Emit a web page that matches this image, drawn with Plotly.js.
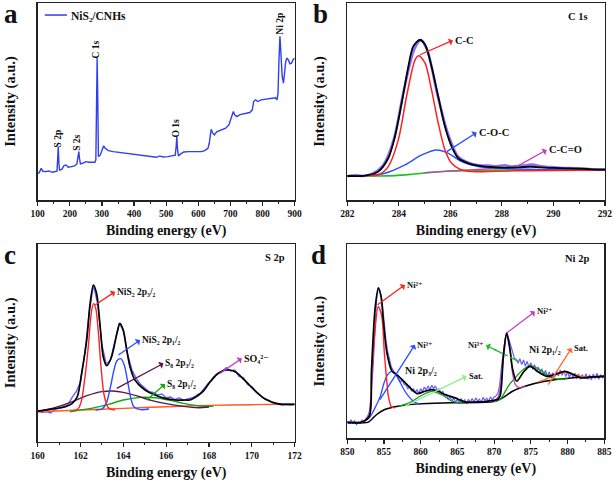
<!DOCTYPE html>
<html><head><meta charset="utf-8">
<script src="https://cdn.plot.ly/plotly-3.0.1.min.js"></script>
<style>html,body{margin:0;padding:0;background:#fff}#chart{width:614px;height:485px}</style>
</head><body><div id="chart"></div>
<script>
// ---------- Panel a: survey ----------
const surveyE = [100,105,111,116,125,135,145,155,160,162,164,166,168,175,182,188,195,205,215,222,226,228,230,233,240,250,260,270,278,281,283,285,287,289,295,300,305,310,320,335,350,370,390,410,430,450,470,480,490,505,520,528,531,533,535,538,545,555,570,590,610,620,630,634,637,640,645,650,657,665,675,685,695,700,705,709,713,720,730,745,760,768,772,778,785,795,810,825,840,845,848,851,854,857,861,865,868,872,876,880,885,890,895,900];
const surveyI = [80,82,95,86,85,87,83,84,86,120,160,110,90,92,103,105,98,100,102,108,140,145,125,108,110,115,113,112,113,120,300,425,300,130,135,150,162,155,148,145,143,140,138,135,132,130,128,132,129,130,132,134,160,190,155,132,138,144,145,145,145,148,155,170,200,212,200,195,204,207,210,215,225,240,252,265,255,250,256,260,262,270,295,300,295,300,302,304,306,300,320,420,490,440,370,350,375,415,425,420,408,410,420,425];
const surveyName = 'NiS₂/CNHs';

// ---------- Panel b: C 1s ----------
const c1sRawE = [282,282.3,282.6,283,283.4,283.8,284.2,284.6,284.85,285.1,285.5,285.9,286.3,286.7,287.1,287.5,287.8,288.1,288.4,288.7,289,289.2,289.5,289.8,290.1,290.4,290.8,291.2,291.6,292];
const c1sRawI = [71,74,72,80,105,180,330,452,478,450,315,200,130,112,104,103,101,104,100,102,105,106,101,99,97,96,95,94,92,92];
const c1sSumE = [282,282.69,283.2,283.59,283.85,284.11,284.37,284.56,284.82,285.02,285.27,285.53,285.79,286.05,286.31,286.7,287.34,287.73,288.2,288.7,289.1,289.5,290,290.5,291,291.5,292];
const c1sSumI = [72,73,85,125,190,290,400,460,480,465,400,310,220,160,125,110,100,98,97,98,100,98,96,95,94,92,91];
const c1sCCE = [282,282.8,283.2,283.59,283.98,284.3,284.63,284.78,285.02,285.27,285.53,285.79,286.05,286.37,286.83,287.73,289,292];
const c1sCCI = [72,73,75,100,180,310,420,432,410,330,230,150,110,92,85,86,88,90];
const c1sCOCE = [282,282.69,283.46,284.24,284.89,285.47,285.92,286.44,287.08,288,289,290,292];
const c1sCOCI = [72,73,80,105,135,150,140,115,100,95,92,91,90];
const c1sCCOE = [285,286.5,288,289,290,291,292];
const c1sCCOI = [82,89,96,99,96,92,90];
const c1sBgE = [282,283,283.85,284.5,285.14,285.8,286.44,287.73,289,292];
const c1sBgI = [72,72,73,77,82,86,88,90,90,90];

// ---------- Panel c: S 2p ----------
const s2pRawE = [160,160.2,160.4,160.6,160.8,161,161.2,161.4,161.6,161.8,162,162.2,162.4,162.6,162.8,163,163.2,163.4,163.6,163.8,164,164.2,164.4,164.6,164.8,165,165.2,165.4,165.6,165.8,166,166.2,166.4,166.6,166.8,167,167.2,167.4,167.6,167.8,168,168.2,168.4,168.6,168.8,169,169.2,169.4,169.6,169.8,170,170.2,170.4,170.6,170.8,171,171.2,171.4,171.6,171.8,172];
const s2pRawI = [92,88,90,86,96,100,104,110,132,150,180,265,385,470,415,290,232,245,300,355,335,262,215,190,172,160,150,148,140,143,132,134,126,132,124,128,131,138,146,162,178,190,205,210,222,212,215,196,192,172,165,150,140,128,124,116,113,110,112,110,112];
const s2pSumE = [160,160.5,161,161.3,161.6,161.85,162.05,162.29,162.44,162.6,162.75,162.91,163.06,163.22,163.45,163.69,163.84,164,164.15,164.31,164.54,165.01,165.48,165.94,166.41,166.9,167.1,167.4,167.71,168.02,168.33,168.64,168.95,169.26,169.57,169.88,170.19,170.5,170.81,171.13,171.44,172];
const s2pSumI = [92,96,101,105,114,135,205,305,410,470,445,350,255,228,255,322,355,333,278,225,185,155,140,130,125,125,125,135,150,177,200,213,215,208,190,170,150,133,122,115,112,112];
const s2pNi32E = [161.6,161.9,162.05,162.2,162.37,162.49,162.6,162.71,162.83,162.96,163.1,163.3,163.6];
const s2pNi32I = [91,100,125,190,290,380,414,400,330,222,140,102,95];
const s2pNi12E = [162.7,163,163.2,163.4,163.55,163.7,163.88,164.05,164.2,164.36,164.5,164.8,165.2];
const s2pNi12I = [95,98,115,165,212,243,249,228,180,127,104,96,98];
const s2pS832E = [160,160.8,161.5,162.3,163,163.5,164,164.6,165.3,166,166.8,167.5,168];
const s2pS832I = [90,102,117,138,150,152,148,138,124,114,106,102,104];
const s2pS812E = [161.5,162.5,163.3,164,164.8,165.5,166.2,166.8,167.5,168.2];
const s2pS812I = [90,100,112,125,133,132,124,115,108,106];
const s2pBgE = [160,162,164,166,168,170,172];
const s2pBgI = [90,95,100,105,109,111,113];

// ---------- Panel d: Ni 2p ----------
const ni2pRawE = [];
for (let i = 0; i <= 140; i++) ni2pRawE.push(850 + i * 0.25);
const ni2pRawI = [52,44,56,47,53,42,50,46,55,48,58,66,80,130,210,330,420,455,440,410,350,300,262,238,215,205,196,188,180,170,176,162,160,150,158,142,150,138,147,135,150,140,155,145,158,147,160,150,158,143,150,135,142,127,132,118,125,112,122,108,118,105,120,110,116,104,118,108,120,110,122,112,118,108,124,114,121,112,125,116,124,128,135,160,215,262,300,318,300,275,258,242,238,226,240,222,236,218,232,214,228,208,222,200,215,196,210,190,205,186,200,184,198,185,202,188,206,190,204,186,200,184,198,182,196,180,194,178,192,180,195,178,192,176,194,180,196,178,192,182,190];
const ni2pSumE = [850,852,853,853.3,853.77,854.22,854.6,854.9,855.4,856.1,857,857.9,858.8,859.5,860.6,861.5,862.4,863.3,864.7,866,868,869,870,870.4,870.8,871.25,871.7,872.16,872.5,873.07,874,874.88,876,877.15,878.4,879.65,880.8,881.92,883.5,885];
const ni2pSumI = [49,49,67,207,387,452,427,357,257,202,187,167,147,135,142,147,142,132,122,110,110,112,115,117,127,247,317,267,210,172,200,217,200,187,193,202,192,182,185,187];
const ni2pNi2aE = [852,853,853.3,853.7,854.22,854.7,855.05,855.4,855.6,856,856.5];
const ni2pNi2aI = [48,70,177,307,397,367,257,167,127,95,92];
const ni2pNi3aE = [852,853,854,854.5,855,855.5,856,856.5,857,858,859,860];
const ni2pNi3aI = [49,62,102,127,167,192,202,197,177,137,112,102];
const ni2pSatAE = [857,858.5,860,861.5,863,864,865,866];
const ni2pSatAI = [97,108,128,142,130,115,108,107];
const ni2pNi2bE = [870,870.6,871.3,871.7,872.16,872.5,872.9,873.5,874.2];
const ni2pNi2bI = [110,127,247,312,267,197,162,152,157];
const ni2pNi3bE = [870,870.8,872,872.84,874,874.88,875.8,876.5,877.9,879.2,880];
const ni2pNi3bI = [110,117,160,182,208,219,212,202,182,178,180];
const ni2pSatBE = [876,877,878.3,879.65,881,881.92,883.3,884];
const ni2pSatBI = [170,178,190,199,193,186,184,185];
const ni2pBgE = [850,852,852.86,854,855.1,856.9,859.7,864.2,869.7,870.8,871.5,872.5,874.2,876.9,880.5,885];
const ni2pBgI = [47,47,49,72,87,97,104,107,110,118,127,142,157,172,182,187];

const FONT = 'Liberation Serif, Times New Roman, DejaVu Serif, serif';
function tr(x, y, xa, ya, color, width, shape, extra) {
  return Object.assign({x: x, y: y, xaxis: xa, yaxis: ya, type: 'scatter', mode: 'lines',
    line: {color: color, width: width, shape: shape || 'linear', smoothing: 0.8}, showlegend: false, hoverinfo: 'skip'}, extra || {});
}
const data = [
  tr(surveyE, surveyI, 'x', 'y', '#2f3ff0', 1.4, 'linear', {name: surveyName}),

  tr(c1sRawE, c1sRawI, 'x2', 'y2', '#8a6cff', 2.6, 'spline'),
  tr(c1sBgE, c1sBgI, 'x2', 'y2', '#22c022', 1.6, 'spline'),
  tr(c1sCCOE, c1sCCOI, 'x2', 'y2', '#c040c0', 1.3, 'spline'),
  tr(c1sCOCE, c1sCOCI, 'x2', 'y2', '#2e4dff', 1.4, 'spline'),
  tr(c1sCCE, c1sCCI, 'x2', 'y2', '#ff2020', 1.5, 'spline'),
  tr(c1sSumE, c1sSumI, 'x2', 'y2', '#000000', 1.8, 'spline'),

  tr(s2pRawE, s2pRawI, 'x3', 'y3', '#6a5cff', 1.4, 'linear'),
  tr(s2pBgE, s2pBgI, 'x3', 'y3', '#ff5a1f', 1.4, 'spline'),
  tr(s2pS812E, s2pS812I, 'x3', 'y3', '#12a812', 1.4, 'spline'),
  tr(s2pS832E, s2pS832I, 'x3', 'y3', '#5a1450', 1.4, 'spline'),
  tr(s2pNi12E, s2pNi12I, 'x3', 'y3', '#2e4dff', 1.4, 'spline'),
  tr(s2pNi32E, s2pNi32I, 'x3', 'y3', '#ff2020', 1.4, 'spline'),
  tr(s2pSumE, s2pSumI, 'x3', 'y3', '#000000', 1.7, 'spline'),

  tr(ni2pRawE, ni2pRawI, 'x4', 'y4', '#6a5cff', 1.2, 'linear'),
  tr(ni2pBgE, ni2pBgI, 'x4', 'y4', '#000000', 1.5, 'spline'),
  tr(ni2pSatAE, ni2pSatAI, 'x4', 'y4', '#1f9a3a', 1.3, 'spline'),
  tr(ni2pSatBE, ni2pSatBI, 'x4', 'y4', '#ff6a30', 1.3, 'spline'),
  tr(ni2pNi3bE, ni2pNi3bI, 'x4', 'y4', '#12a012', 1.3, 'spline'),
  tr(ni2pNi2bE, ni2pNi2bI, 'x4', 'y4', '#c040c0', 1.3, 'spline'),
  tr(ni2pNi3aE, ni2pNi3aI, 'x4', 'y4', '#2e4dff', 1.3, 'spline'),
  tr(ni2pNi2aE, ni2pNi2aI, 'x4', 'y4', '#ff2020', 1.4, 'spline'),
  tr(ni2pSumE, ni2pSumI, 'x4', 'y4', '#000000', 1.7, 'spline')
];

function xax(domain, anchor, range, dtick, minorDtick) {
  return {domain: domain, anchor: anchor, range: range, dtick: dtick, tick0: range[0],
    showline: true, linecolor: '#222', linewidth: 1.5, mirror: true, showgrid: false, zeroline: false,
    ticks: 'outside', ticklen: 4, tickwidth: 1.2, tickcolor: '#222',
    minor: {ticks: 'outside', ticklen: 2, dtick: minorDtick, tickcolor: '#222', tickwidth: 1},
    tickfont: {family: FONT, size: 9.5, color: '#111', weight: 'bold'},
    title: {text: '<b>Binding energy (eV)</b>', font: {family: FONT, size: 14, color: '#111'}, standoff: 7},
    fixedrange: true};
}
function yax(domain, anchor, range) {
  return {domain: domain, anchor: anchor, range: range, showline: true, linecolor: '#222', linewidth: 1.5,
    mirror: true, showgrid: false, zeroline: false, showticklabels: false, ticks: '',
    title: {text: '<b>Intensity (a.u.)</b>', font: {family: FONT, size: 14.5, color: '#111'}, standoff: 17},
    fixedrange: true};
}

const ann = [];
function lab(xr, yr, x, y, text, size, opts) {
  ann.push(Object.assign({xref: xr, yref: yr, x: x, y: y, text: text, showarrow: false,
    xanchor: 'left', yanchor: 'middle', font: {family: FONT, size: size, color: '#111'}}, opts || {}));
}
// label with an arrow from a point on a curve (cx, cy) to the label at (lx, ly); head at the label side
function labArr(xr, yr, lx, ly, text, size, cx, cy, color, xanchor) {
  ann.push({xref: xr, yref: yr, axref: xr, ayref: yr, x: cx, y: cy, ax: lx, ay: ly, text: text,
    showarrow: true, arrowside: 'start', arrowhead: 2, arrowsize: 1, arrowwidth: 1.3, arrowcolor: color,
    xanchor: xanchor || 'left', yanchor: 'middle', font: {family: FONT, size: size, color: '#111'}});
}
// panel letters
lab('paper', 'paper', 0.003, 0.972, '<b>a</b>', 27);
lab('paper', 'paper', 0.506, 0.972, '<b>b</b>', 27);
lab('paper', 'paper', 0.003, 0.475, '<b>c</b>', 27);
lab('paper', 'paper', 0.503, 0.475, '<b>d</b>', 27);
// panel a labels
const rot = {textangle: -90, xanchor: 'center'};
lab('x', 'y', 164, 185, '<b>S 2p</b>', 9.5, rot);
lab('x', 'y', 224, 170, '<b>S 2s</b>', 9.5, rot);
lab('x', 'y', 283, 452, '<b>C 1s</b>', 9.5, rot);
lab('x', 'y', 531, 215, '<b>O 1s</b>', 9.5, rot);
lab('x', 'y', 854, 528, '<b>Ni 2p</b>', 9.5, rot);
lab('paper', 'paper', 0.113, 0.968, '<b>' + surveyName + '</b>', 11.5);
// panel b
lab('x2', 'y2', 290.5, 550, '<b>C 1s</b>', 10.5);
labArr('x2', 'y2', 286.1, 478, '<b>C-C</b>', 10.5, 284.82, 435, '#ff2020');
labArr('x2', 'y2', 287.02, 202, '<b>C-O-C</b>', 10.5, 285.86, 145, '#2e4dff');
labArr('x2', 'y2', 289.74, 150, '<b>C-C=O</b>', 10.5, 288.57, 100, '#c040c0');
// panel c
lab('x3', 'y3', 170.54, 553, '<b>S 2p</b>', 10.5);
labArr('x3', 'y3', 163.61, 450, '<b>NiS₂ 2p₃/₂</b>', 9.5, 162.68, 410, '#ff2020');
labArr('x3', 'y3', 164.78, 305, '<b>NiS₂ 2p₁/₂</b>', 9.5, 163.77, 260, '#2e4dff');
labArr('x3', 'y3', 165.87, 235, '<b>S₈ 2p₃/₂</b>', 9.5, 163.69, 160, '#5a1450');
labArr('x3', 'y3', 165.95, 173, '<b>S₈ 2p₁/₂</b>', 9.5, 165.09, 125, '#12a812');
labArr('x3', 'y3', 169.53, 250, '<b>SO₄²⁻</b>', 10, 168.51, 205, '#c040c0');
// panel d
lab('x4', 'y4', 879.4, 542, '<b>Ni 2p</b>', 10.5);
labArr('x4', 'y4', 857.85, 462, '<b>Ni²⁺</b>', 8.5, 854.13, 402, '#ff2020');
labArr('x4', 'y4', 859.21, 282, '<b>Ni³⁺</b>', 8.5, 854.45, 117, '#2e4dff');
lab('x4', 'y4', 857.63, 205, '<b>Ni 2p₃/₂</b>', 10);
labArr('x4', 'y4', 866.25, 187, '<b>Sat.</b>', 8.5, 857.85, 97, '#90ee90');
labArr('x4', 'y4', 875.56, 382, '<b>Ni²⁺</b>', 8.5, 871.7, 317, '#c040c0');
labArr('x4', 'y4', 868.9, 280, '<b>Ni³⁺</b>', 8.5, 870.3, 265, '#22bb22', 'right');
lab('x4', 'y4', 874.42, 267, '<b>Ni 2p₁/₂</b>', 10);
labArr('x4', 'y4', 880.55, 272, '<b>Sat.</b>', 8.5, 877.37, 162, '#ff6a30');

const shapes = [
  {type: 'line', xref: 'paper', yref: 'paper', x0: 0.073, x1: 0.109, y0: 0.969, y1: 0.969, line: {color: '#2f3ff0', width: 1.5}},
  {type: 'line', xref: 'x4', yref: 'y4', x0: 873.3, y0: 232, x1: 870.0, y1: 268, line: {color: '#22bb22', width: 1.3, dash: 'dashdot'}}
];

const layout = {
  width: 614, height: 485, margin: {l: 0, r: 0, t: 0, b: 0}, paper_bgcolor: '#fff', plot_bgcolor: '#fff',
  showlegend: false, font: {family: FONT},
  xaxis: xax([0.0614, 0.48], 'y', [100, 900], 100, 50),
  yaxis: yax([0.5876, 0.9938], 'x', [0, 590]),
  xaxis2: xax([0.5656, 0.9853], 'y2', [282, 292], 2, 1),
  yaxis2: yax([0.5876, 0.9938], 'x2', [0, 590]),
  xaxis3: xax([0.0614, 0.48], 'y3', [160, 172], 2, 1),
  yaxis3: yax([0.0893, 0.4969], 'x3', [0, 593]),
  xaxis4: xax([0.5656, 0.9842], 'y4', [850, 885], 5, 2.5),
  yaxis4: yax([0.096, 0.4969], 'x4', [0, 585]),
  annotations: ann, shapes: shapes
};
Plotly.newPlot('chart', data, layout, {staticPlot: true, displayModeBar: false});
</script></body></html>
